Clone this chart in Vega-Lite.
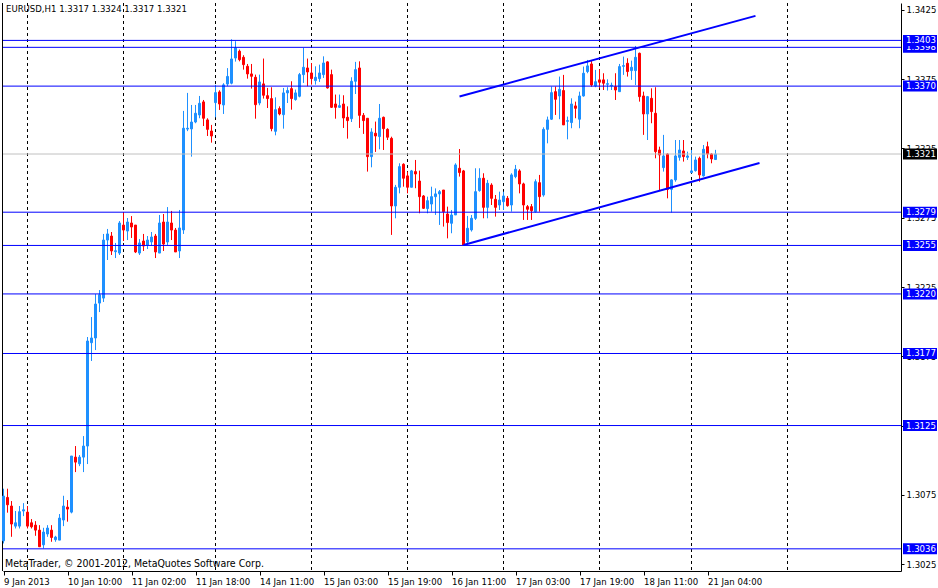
{
  "$schema": "https://vega.github.io/schema/vega-lite/v6.json",
  "width": 898,
  "height": 568,
  "autosize": {"type": "none"},
  "padding": {"left": 3, "top": 3, "right": 37, "bottom": 17},
  "background": "white",
  "config": {"view": {"stroke": null}, "font": "DejaVu Sans Condensed"},
  "datasets": {
    "candles": [
      {"i":0,"o":1.30418,"h":1.30794,"l":1.30399,"c":1.30741},
      {"i":1,"o":1.30731,"h":1.30794,"l":1.30621,"c":1.30678},
      {"i":2,"o":1.30669,"h":1.30705,"l":1.30447,"c":1.30539},
      {"i":3,"o":1.30524,"h":1.30633,"l":1.30507,"c":1.30548},
      {"i":4,"o":1.30524,"h":1.30669,"l":1.30507,"c":1.30628},
      {"i":5,"o":1.30633,"h":1.3069,"l":1.30596,"c":1.30642},
      {"i":6,"o":1.30625,"h":1.30669,"l":1.30507,"c":1.30524},
      {"i":7,"o":1.30548,"h":1.30575,"l":1.30507,"c":1.30519},
      {"i":8,"o":1.30531,"h":1.3056,"l":1.30454,"c":1.30495},
      {"i":9,"o":1.30495,"h":1.30531,"l":1.30375,"c":1.30375},
      {"i":10,"o":1.30389,"h":1.30512,"l":1.30363,"c":1.30481},
      {"i":11,"o":1.30467,"h":1.30531,"l":1.30447,"c":1.3051},
      {"i":12,"o":1.30495,"h":1.30531,"l":1.30411,"c":1.30442},
      {"i":13,"o":1.30426,"h":1.30454,"l":1.30411,"c":1.30445},
      {"i":14,"o":1.30423,"h":1.30611,"l":1.30423,"c":1.30582},
      {"i":15,"o":1.30568,"h":1.30743,"l":1.30524,"c":1.30669},
      {"i":16,"o":1.30661,"h":1.30712,"l":1.30556,"c":1.30647},
      {"i":17,"o":1.30625,"h":1.3103,"l":1.30616,"c":1.3103},
      {"i":18,"o":1.31022,"h":1.31102,"l":1.30914,"c":1.30986},
      {"i":19,"o":1.30974,"h":1.31037,"l":1.30957,"c":1.31022},
      {"i":20,"o":1.31022,"h":1.31174,"l":1.30914,"c":1.31102},
      {"i":21,"o":1.31102,"h":1.31889,"l":1.30972,"c":1.3186},
      {"i":22,"o":1.31848,"h":1.32033,"l":1.31716,"c":1.31882},
      {"i":23,"o":1.31882,"h":1.32199,"l":1.31795,"c":1.32127},
      {"i":24,"o":1.32134,"h":1.32228,"l":1.32069,"c":1.32194},
      {"i":25,"o":1.3217,"h":1.32633,"l":1.32142,"c":1.32589},
      {"i":26,"o":1.32589,"h":1.32669,"l":1.32445,"c":1.32633},
      {"i":27,"o":1.32618,"h":1.32647,"l":1.32481,"c":1.3251},
      {"i":28,"o":1.32505,"h":1.32568,"l":1.32459,"c":1.32512},
      {"i":29,"o":1.32495,"h":1.32726,"l":1.32481,"c":1.32712},
      {"i":30,"o":1.32697,"h":1.32791,"l":1.32582,"c":1.32661},
      {"i":31,"o":1.32654,"h":1.32748,"l":1.32589,"c":1.32719},
      {"i":32,"o":1.32712,"h":1.32762,"l":1.32604,"c":1.32683},
      {"i":33,"o":1.32697,"h":1.32697,"l":1.32495,"c":1.32503},
      {"i":34,"o":1.32495,"h":1.32596,"l":1.32481,"c":1.32568},
      {"i":35,"o":1.32582,"h":1.32633,"l":1.3251,"c":1.32546},
      {"i":36,"o":1.32553,"h":1.32618,"l":1.32524,"c":1.32589},
      {"i":37,"o":1.32575,"h":1.32647,"l":1.32546,"c":1.32611},
      {"i":38,"o":1.32618,"h":1.32633,"l":1.32459,"c":1.32503},
      {"i":39,"o":1.32495,"h":1.3277,"l":1.32495,"c":1.32712},
      {"i":40,"o":1.32719,"h":1.32777,"l":1.3251,"c":1.3256},
      {"i":41,"o":1.32575,"h":1.32827,"l":1.32553,"c":1.32719},
      {"i":42,"o":1.32712,"h":1.32799,"l":1.32589,"c":1.32661},
      {"i":43,"o":1.32661,"h":1.32676,"l":1.32503,"c":1.32503},
      {"i":44,"o":1.3251,"h":1.32806,"l":1.32459,"c":1.32676},
      {"i":45,"o":1.32662,"h":1.33521,"l":1.32633,"c":1.33396},
      {"i":46,"o":1.3339,"h":1.33651,"l":1.33375,"c":1.33396},
      {"i":47,"o":1.33391,"h":1.33564,"l":1.33191,"c":1.33441},
      {"i":48,"o":1.33441,"h":1.33564,"l":1.33432,"c":1.33504},
      {"i":49,"o":1.33492,"h":1.33629,"l":1.33468,"c":1.33576},
      {"i":50,"o":1.33586,"h":1.336,"l":1.33412,"c":1.33468},
      {"i":51,"o":1.33456,"h":1.33468,"l":1.3334,"c":1.33388},
      {"i":52,"o":1.33376,"h":1.3342,"l":1.33292,"c":1.3334},
      {"i":53,"o":1.33581,"h":1.33709,"l":1.33475,"c":1.33653},
      {"i":54,"o":1.33658,"h":1.3367,"l":1.33528,"c":1.33571},
      {"i":55,"o":1.33564,"h":1.33721,"l":1.33499,"c":1.33709},
      {"i":56,"o":1.33715,"h":1.3383,"l":1.337,"c":1.3377},
      {"i":57,"o":1.33721,"h":1.34038,"l":1.33713,"c":1.33896},
      {"i":58,"o":1.33903,"h":1.34024,"l":1.33877,"c":1.33976},
      {"i":59,"o":1.33952,"h":1.33964,"l":1.33879,"c":1.33891},
      {"i":60,"o":1.33908,"h":1.33923,"l":1.33819,"c":1.33855},
      {"i":61,"o":1.33843,"h":1.3386,"l":1.33754,"c":1.33788},
      {"i":62,"o":1.33788,"h":1.3386,"l":1.33682,"c":1.33771},
      {"i":63,"o":1.33764,"h":1.33783,"l":1.33465,"c":1.33566},
      {"i":64,"o":1.33578,"h":1.33783,"l":1.33562,"c":1.3373},
      {"i":65,"o":1.33716,"h":1.33899,"l":1.3361,"c":1.33634},
      {"i":66,"o":1.33631,"h":1.33687,"l":1.33542,"c":1.3361},
      {"i":67,"o":1.3361,"h":1.33692,"l":1.33374,"c":1.33393},
      {"i":68,"o":1.33374,"h":1.33619,"l":1.33345,"c":1.3353},
      {"i":69,"o":1.33538,"h":1.33554,"l":1.33489,"c":1.33499},
      {"i":70,"o":1.33494,"h":1.33687,"l":1.33393,"c":1.33651},
      {"i":71,"o":1.33651,"h":1.33692,"l":1.33578,"c":1.33668},
      {"i":72,"o":1.33682,"h":1.33735,"l":1.3353,"c":1.3361},
      {"i":73,"o":1.33603,"h":1.33675,"l":1.33595,"c":1.33651},
      {"i":74,"o":1.33627,"h":1.33795,"l":1.33619,"c":1.33783},
      {"i":75,"o":1.33783,"h":1.33976,"l":1.33723,"c":1.33836},
      {"i":76,"o":1.33831,"h":1.33899,"l":1.33699,"c":1.33802},
      {"i":77,"o":1.33795,"h":1.33867,"l":1.33711,"c":1.33754},
      {"i":78,"o":1.3374,"h":1.33843,"l":1.33711,"c":1.33764},
      {"i":79,"o":1.33754,"h":1.33855,"l":1.3373,"c":1.33795},
      {"i":80,"o":1.33783,"h":1.33915,"l":1.33759,"c":1.33867},
      {"i":81,"o":1.33875,"h":1.33879,"l":1.33682,"c":1.33687},
      {"i":82,"o":1.33783,"h":1.33819,"l":1.33542,"c":1.33547},
      {"i":83,"o":1.33571,"h":1.33639,"l":1.33465,"c":1.33547},
      {"i":84,"o":1.33547,"h":1.33639,"l":1.33542,"c":1.33559},
      {"i":85,"o":1.33571,"h":1.33634,"l":1.33398,"c":1.3347},
      {"i":86,"o":1.33475,"h":1.33554,"l":1.33321,"c":1.33451},
      {"i":87,"o":1.33465,"h":1.33764,"l":1.33441,"c":1.33735},
      {"i":88,"o":1.33735,"h":1.33875,"l":1.33643,"c":1.33819},
      {"i":89,"o":1.33831,"h":1.33879,"l":1.33398,"c":1.33489},
      {"i":90,"o":1.33489,"h":1.33506,"l":1.33355,"c":1.33451},
      {"i":91,"o":1.33468,"h":1.33468,"l":1.33083,"c":1.33191},
      {"i":92,"o":1.33191,"h":1.33396,"l":1.33114,"c":1.33369},
      {"i":93,"o":1.3336,"h":1.33444,"l":1.33225,"c":1.3334},
      {"i":94,"o":1.33336,"h":1.33571,"l":1.33244,"c":1.33468},
      {"i":95,"o":1.33475,"h":1.3348,"l":1.33239,"c":1.33393},
      {"i":96,"o":1.33388,"h":1.33396,"l":1.33311,"c":1.33331},
      {"i":97,"o":1.33323,"h":1.33335,"l":1.32626,"c":1.32835},
      {"i":98,"o":1.32835,"h":1.32987,"l":1.32746,"c":1.3297},
      {"i":99,"o":1.3297,"h":1.33143,"l":1.32926,"c":1.33119},
      {"i":100,"o":1.33136,"h":1.33143,"l":1.32974,"c":1.33035},
      {"i":101,"o":1.33052,"h":1.33083,"l":1.32926,"c":1.3297},
      {"i":102,"o":1.3297,"h":1.33095,"l":1.3297,"c":1.33088},
      {"i":103,"o":1.33083,"h":1.33167,"l":1.32963,"c":1.33066},
      {"i":104,"o":1.33015,"h":1.3309,"l":1.32782,"c":1.32902},
      {"i":105,"o":1.32907,"h":1.32914,"l":1.32813,"c":1.32818},
      {"i":106,"o":1.32816,"h":1.32902,"l":1.32782,"c":1.32873},
      {"i":107,"o":1.32849,"h":1.32974,"l":1.32794,"c":1.32902},
      {"i":108,"o":1.32902,"h":1.32962,"l":1.3277,"c":1.32922},
      {"i":109,"o":1.32922,"h":1.3295,"l":1.32698,"c":1.32938},
      {"i":110,"o":1.3295,"h":1.3295,"l":1.32686,"c":1.32794},
      {"i":111,"o":1.32777,"h":1.3283,"l":1.32601,"c":1.32715},
      {"i":112,"o":1.3271,"h":1.32806,"l":1.32638,"c":1.3277},
      {"i":113,"o":1.3277,"h":1.33143,"l":1.3277,"c":1.33131},
      {"i":114,"o":1.33107,"h":1.33246,"l":1.33047,"c":1.33076},
      {"i":115,"o":1.33088,"h":1.33095,"l":1.32553,"c":1.32553},
      {"i":116,"o":1.32577,"h":1.32763,"l":1.32565,"c":1.32674},
      {"i":117,"o":1.32662,"h":1.3277,"l":1.3265,"c":1.32746},
      {"i":118,"o":1.32746,"h":1.33107,"l":1.32734,"c":1.32938},
      {"i":119,"o":1.32946,"h":1.33107,"l":1.32938,"c":1.33035},
      {"i":120,"o":1.33035,"h":1.33071,"l":1.32746,"c":1.32825},
      {"i":121,"o":1.32825,"h":1.33023,"l":1.32746,"c":1.32999},
      {"i":122,"o":1.32986,"h":1.32999,"l":1.32842,"c":1.3289},
      {"i":123,"o":1.32883,"h":1.32914,"l":1.32758,"c":1.32825},
      {"i":124,"o":1.32842,"h":1.32938,"l":1.32806,"c":1.32878},
      {"i":125,"o":1.32866,"h":1.32938,"l":1.32806,"c":1.32907},
      {"i":126,"o":1.3289,"h":1.32907,"l":1.3283,"c":1.32837},
      {"i":127,"o":1.32842,"h":1.33071,"l":1.32794,"c":1.33059},
      {"i":128,"o":1.33047,"h":1.33131,"l":1.33035,"c":1.331},
      {"i":129,"o":1.33088,"h":1.331,"l":1.32926,"c":1.32994},
      {"i":130,"o":1.32994,"h":1.33003,"l":1.32734,"c":1.32842},
      {"i":131,"o":1.3283,"h":1.32842,"l":1.32734,"c":1.32811},
      {"i":132,"o":1.3283,"h":1.32849,"l":1.32734,"c":1.32801},
      {"i":133,"o":1.32794,"h":1.33027,"l":1.32787,"c":1.3301},
      {"i":134,"o":1.33003,"h":1.33059,"l":1.32794,"c":1.32902},
      {"i":135,"o":1.32914,"h":1.33403,"l":1.32902,"c":1.33388},
      {"i":136,"o":1.33388,"h":1.3348,"l":1.33287,"c":1.33456},
      {"i":137,"o":1.33461,"h":1.33697,"l":1.33456,"c":1.33653},
      {"i":138,"o":1.3366,"h":1.33697,"l":1.33492,"c":1.33605},
      {"i":139,"o":1.33629,"h":1.33769,"l":1.33461,"c":1.33677},
      {"i":140,"o":1.33668,"h":1.33781,"l":1.3342,"c":1.3342},
      {"i":141,"o":1.33446,"h":1.3348,"l":1.33316,"c":1.33451},
      {"i":142,"o":1.33437,"h":1.33612,"l":1.33396,"c":1.33571},
      {"i":143,"o":1.33557,"h":1.33588,"l":1.33468,"c":1.3354},
      {"i":144,"o":1.33461,"h":1.3366,"l":1.33396,"c":1.33629},
      {"i":145,"o":1.33629,"h":1.33841,"l":1.33624,"c":1.33793},
      {"i":146,"o":1.33805,"h":1.33889,"l":1.33793,"c":1.33846},
      {"i":147,"o":1.3386,"h":1.33884,"l":1.33696,"c":1.33708},
      {"i":148,"o":1.33701,"h":1.33817,"l":1.33692,"c":1.33732},
      {"i":149,"o":1.33745,"h":1.33822,"l":1.33684,"c":1.33728},
      {"i":150,"o":1.33745,"h":1.33793,"l":1.33672,"c":1.33721},
      {"i":151,"o":1.33713,"h":1.33749,"l":1.33668,"c":1.33718},
      {"i":152,"o":1.33701,"h":1.33725,"l":1.33672,"c":1.33706},
      {"i":153,"o":1.33696,"h":1.33793,"l":1.336,"c":1.33672},
      {"i":154,"o":1.3366,"h":1.3386,"l":1.3366,"c":1.33841},
      {"i":155,"o":1.33843,"h":1.33913,"l":1.33781,"c":1.33848},
      {"i":156,"o":1.33865,"h":1.33901,"l":1.33769,"c":1.33805},
      {"i":157,"o":1.33812,"h":1.33884,"l":1.33745,"c":1.33836},
      {"i":158,"o":1.33812,"h":1.3399,"l":1.33708,"c":1.33908},
      {"i":159,"o":1.33937,"h":1.33942,"l":1.33588,"c":1.33624},
      {"i":160,"o":1.33629,"h":1.3366,"l":1.33348,"c":1.33499},
      {"i":161,"o":1.33499,"h":1.33629,"l":1.33311,"c":1.33624},
      {"i":162,"o":1.33612,"h":1.33684,"l":1.33432,"c":1.33516},
      {"i":163,"o":1.33504,"h":1.33692,"l":1.33179,"c":1.33227},
      {"i":164,"o":1.33239,"h":1.33263,"l":1.3295,"c":1.33203},
      {"i":165,"o":1.33112,"h":1.33348,"l":1.33083,"c":1.33196},
      {"i":166,"o":1.3321,"h":1.33215,"l":1.3289,"c":1.32955},
      {"i":167,"o":1.32955,"h":1.33027,"l":1.32787,"c":1.33023},
      {"i":168,"o":1.33023,"h":1.33311,"l":1.3301,"c":1.33196},
      {"i":169,"o":1.33186,"h":1.33311,"l":1.33162,"c":1.33239},
      {"i":170,"o":1.33232,"h":1.33311,"l":1.33155,"c":1.33191},
      {"i":171,"o":1.33186,"h":1.33227,"l":1.33167,"c":1.33196},
      {"i":172,"o":1.33076,"h":1.33239,"l":1.33071,"c":1.33088},
      {"i":173,"o":1.3309,"h":1.33191,"l":1.33083,"c":1.33167},
      {"i":174,"o":1.33179,"h":1.33191,"l":1.3301,"c":1.33059},
      {"i":175,"o":1.33052,"h":1.33275,"l":1.33047,"c":1.33244},
      {"i":176,"o":1.33263,"h":1.33299,"l":1.33179,"c":1.3321},
      {"i":177,"o":1.3321,"h":1.33215,"l":1.33143,"c":1.33174},
      {"i":178,"o":1.3317,"h":1.3324,"l":1.3317,"c":1.3321}
    ],
    "days": [
      {"day":"10 Jan","i":6},{"day":"11 Jan","i":30},{"day":"14 Jan","i":53},
      {"day":"15 Jan","i":77},{"day":"16 Jan","i":101},{"day":"17 Jan","i":125},
      {"day":"18 Jan","i":149},{"day":"21 Jan","i":172},{"day":"22 Jan","i":196}
    ],
    "levels": [
      {"p":1.3398,"k":"line"},{"p":1.3403,"k":"line"},{"p":1.337,"k":"line"},
      {"p":1.3279,"k":"line"},{"p":1.3255,"k":"line"},{"p":1.322,"k":"line"},
      {"p":1.3177,"k":"line"},{"p":1.3125,"k":"line"},{"p":1.3036,"k":"line"},
      {"p":1.3321,"k":"bid"}
    ],
    "trend": [
      {"line":"upper","i":114,"p":1.33625},{"line":"upper","i":188,"p":1.34207},
      {"line":"lower","i":115,"p":1.32553},{"line":"lower","i":189,"p":1.33145}
    ],
    "notes": [{"title":"EURUSD,H1  1.3317 1.3324 1.3317 1.3321","footer":"MetaTrader, © 2001-2012, MetaQuotes Software Corp."}]
  },
  "layer": [
    {
      "data": {"name": "days"},
      "mark": {"type": "rule", "color": "black", "strokeWidth": 1, "strokeDash": [3, 3]},
      "encoding": {
        "x": {
          "field": "i", "type": "quantitative",
          "scale": {"domain": [-0.125, 224.375], "nice": false, "zero": false, "padding": 0},
          "axis": {
            "values": [0,16,32,48,64,80,96,112,128,144,160,176],
            "labelExpr": "['9 Jan 2013','10 Jan 10:00','11 Jan 02:00','11 Jan 18:00','14 Jan 11:00','15 Jan 03:00','15 Jan 19:00','16 Jan 11:00','17 Jan 03:00','17 Jan 19:00','18 Jan 11:00','21 Jan 04:00'][round(datum.value/16)]",
            "labelAlign": "left", "labelBaseline": "top", "tickSize": 4, "labelPadding": 1,
            "labelFont": "DejaVu Sans Condensed", "labelFontSize": 9.5, "labelColor": "black",
            "domainColor": "black", "tickColor": "black", "grid": false, "title": null,
            "labelFlush": false, "labelOverlap": false, "labelBound": false
          }
        }
      }
    },
    {
      "data": {"name": "notes"},
      "mark": {"type": "rule", "color": "black", "strokeWidth": 1},
      "encoding": {"x": {"datum": -0.25, "type": "quantitative"}}
    },
    {
      "data": {"name": "candles"},
      "mark": {"type": "rule", "strokeWidth": 1},
      "encoding": {
        "x": {"field": "i", "type": "quantitative"},
        "y": {
          "field": "l", "type": "quantitative",
          "scale": {"domain": [1.302, 1.343], "nice": false, "zero": false, "padding": 0},
          "axis": {
            "orient": "right",
            "values": [1.3025,1.305,1.3075,1.31,1.3125,1.315,1.3175,1.32,1.3225,1.325,1.3275,1.33,1.3325,1.335,1.3375,1.34,1.3425],
            "format": ".4f", "tickSize": 3, "labelPadding": 2,
            "labelFont": "DejaVu Sans Condensed", "labelFontSize": 9.5, "labelColor": "black",
            "domainColor": "black", "tickColor": "black", "grid": false, "title": null,
            "labelFlush": false, "labelOverlap": false, "labelBound": false
          }
        },
        "y2": {"field": "h"},
        "color": {"condition": {"test": "datum.c >= datum.o", "value": "#1E90FF"}, "value": "#FF0000"}
      }
    },
    {
      "data": {"name": "candles"},
      "mark": {"type": "bar", "orient": "vertical", "size": 2, "strokeWidth": 1},
      "encoding": {
        "x": {"field": "i", "type": "quantitative"},
        "y": {"field": "o", "type": "quantitative"},
        "y2": {"field": "c"},
        "fill": {"condition": {"test": "datum.c >= datum.o", "value": "#1E90FF"}, "value": "#FF0000"},
        "stroke": {"condition": {"test": "datum.c >= datum.o", "value": "#1E90FF"}, "value": "#FF0000"}
      }
    },
    {
      "data": {"name": "levels"},
      "mark": {"type": "rule", "strokeWidth": 1},
      "encoding": {
        "y": {"field": "p", "type": "quantitative"},
        "color": {"condition": {"test": "datum.k === 'bid'", "value": "#C0C0C0"}, "value": "#0000FF"}
      }
    },
    {
      "data": {"name": "trend"},
      "mark": {"type": "line", "color": "#0000FF", "strokeWidth": 2},
      "encoding": {
        "x": {"field": "i", "type": "quantitative"},
        "y": {"field": "p", "type": "quantitative"},
        "detail": {"field": "line"}
      }
    },
    {
      "data": {"name": "levels"},
      "transform": [{"filter": "datum.p === 1.3398"}],
      "mark": {"type": "rule", "strokeWidth": 11, "strokeCap": "butt", "clip": false},
      "encoding": {
        "x": {"datum": 224.875, "type": "quantitative"},
        "x2": {"datum": 233.375},
        "y": {"field": "p", "type": "quantitative"},
        "color": {"value": "#0000FF"}
      }
    },
    {
      "data": {"name": "levels"},
      "transform": [{"filter": "datum.p === 1.3398"}],
      "mark": {"type": "text", "align": "left", "baseline": "middle", "color": "white", "font": "DejaVu Sans Condensed", "fontSize": 9.5, "clip": false},
      "encoding": {
        "x": {"datum": 225.625, "type": "quantitative"},
        "y": {"field": "p", "type": "quantitative"},
        "text": {"field": "p", "format": ".4f"}
      }
    },
    {
      "data": {"name": "levels"},
      "transform": [{"filter": "datum.p !== 1.3398"}],
      "mark": {"type": "rule", "strokeWidth": 11, "strokeCap": "butt", "clip": false},
      "encoding": {
        "x": {"datum": 224.875, "type": "quantitative"},
        "x2": {"datum": 233.375},
        "y": {"field": "p", "type": "quantitative"},
        "color": {"condition": {"test": "datum.k === 'bid'", "value": "#000000"}, "value": "#0000FF"}
      }
    },
    {
      "data": {"name": "levels"},
      "transform": [{"filter": "datum.p !== 1.3398"}],
      "mark": {"type": "text", "align": "left", "baseline": "middle", "color": "white", "font": "DejaVu Sans Condensed", "fontSize": 9.5, "clip": false},
      "encoding": {
        "x": {"datum": 225.625, "type": "quantitative"},
        "y": {"field": "p", "type": "quantitative"},
        "text": {"field": "p", "format": ".4f"}
      }
    },
    {
      "data": {"name": "notes"},
      "mark": {"type": "text", "align": "left", "baseline": "middle", "color": "black", "font": "DejaVu Sans Condensed", "fontSize": 9.5},
      "encoding": {
        "x": {"datum": 0.625, "type": "quantitative"},
        "y": {"datum": 1.3426, "type": "quantitative"},
        "text": {"field": "title"}
      }
    },
    {
      "data": {"name": "notes"},
      "mark": {"type": "text", "align": "left", "baseline": "middle", "color": "black", "font": "DejaVu Sans Condensed", "fontSize": 10.5},
      "encoding": {
        "x": {"datum": 0.375, "type": "quantitative"},
        "y": {"datum": 1.30252, "type": "quantitative"},
        "text": {"field": "footer"}
      }
    }
  ]
}
